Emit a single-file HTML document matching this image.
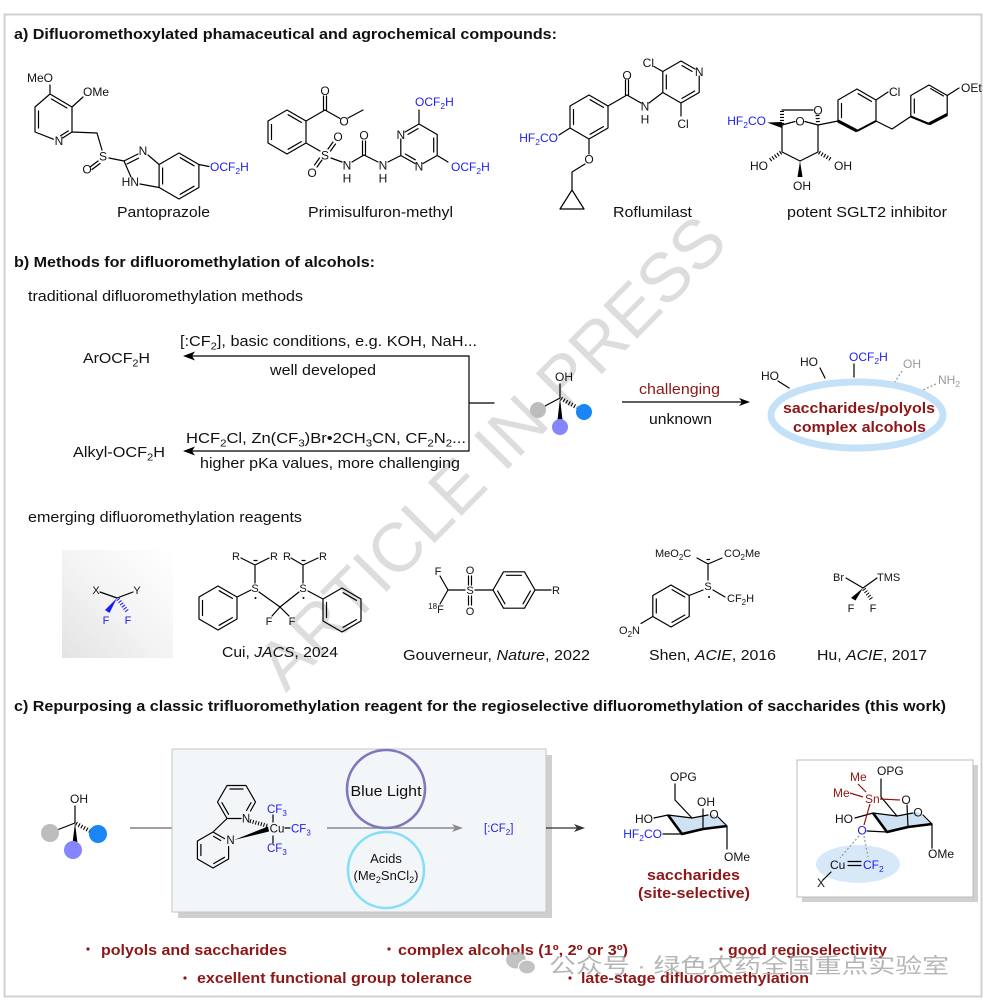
<!DOCTYPE html>
<html><head><meta charset="utf-8"><title>diagram</title>
<style>
html,body{margin:0;padding:0;background:#fff;width:983px;height:1002px;overflow:hidden}
svg{display:block}
text{font-family:"Liberation Sans","Noto Sans CJK SC",Arial,sans-serif;fill:#111}
.b{stroke:#000;stroke-width:1.2;fill:none;stroke-linecap:round;stroke-linejoin:round}
.a{font-size:12px}
.bl{fill:#2020f0}
.dr{fill:#8e1616}
.gy{fill:#9a9a9a}
.wm{fill:#dddddd}
.cn{fill:#a9a9a9}
</style></head><body>
<svg width="983" height="1002" viewBox="0 0 983 1002" xmlns="http://www.w3.org/2000/svg">
<defs>
<linearGradient id="gbox" x1="1" y1="0" x2="0" y2="1">
<stop offset="0" stop-color="#ffffff"/><stop offset="0.5" stop-color="#f4f4f4"/><stop offset="1" stop-color="#e3e3e3"/>
</linearGradient>
</defs>
<rect x="0" y="0" width="983" height="1002" fill="#fff"/>
<!-- watermark -->
<text class="wm" x="0" y="0" transform="translate(508,469) rotate(-45.3)" text-anchor="middle" font-size="69">ARTICLE IN PRESS</text>
<!-- frame -->
<rect x="4.5" y="14.5" width="977" height="982" fill="none" stroke="#d0d0d0" stroke-width="2"/>

<!-- ============ SECTION A ============ -->
<text x="14" y="39" font-size="14.5" font-weight="bold" textLength="543" lengthAdjust="spacingAndGlyphs">a) Difluoromethoxylated phamaceutical and agrochemical compounds:</text>

<g font-size="15">
<text x="117" y="217" textLength="93" lengthAdjust="spacingAndGlyphs">Pantoprazole</text>
<text x="308" y="217" textLength="145" lengthAdjust="spacingAndGlyphs">Primisulfuron-methyl</text>
<text x="613" y="217" textLength="79" lengthAdjust="spacingAndGlyphs">Roflumilast</text>
<text x="787" y="217" textLength="160" lengthAdjust="spacingAndGlyphs">potent SGLT2 inhibitor</text>
</g>

<!-- Pantoprazole -->
<path class="b" d="M50,94 L72,107 L72,132 L62.9,137.9 M53.4,139.2 L35,132 L35,107 L50,94
M38.5,111 L38.5,128 M51.5,99 L66.9,108 M68.3,130.9 L60.6,135.8
M50,94 L50,85 M72,107 L83,97 M72,132 L97,133 L102,150
M98,161 L90,167 M100,163.5 L92,169.5 M109,158 L124,161
M124,161 L138,154 M127,164 L138.5,158.2 M148,155 L159.1,164.5 M159.1,164.5 L159.1,187.5 M159.1,187.5 L140,184 M131,177 L124,161
M159.1,164.5 L179,153 L198.9,164.5 L198.9,187.5 L179,199 L159.1,187.5
M180.2,157.7 L194.1,165.8 M194.1,186.2 L180.2,194.3 M162.6,168 L162.6,184
M198.9,164.5 L209,166.5"/>
<g class="a">
<text x="53" y="82" text-anchor="end">MeO</text>
<text x="83" y="96">OMe</text>
<text x="59" y="145" text-anchor="middle">N</text>
<text x="103" y="160.5" text-anchor="middle">S</text>
<text x="87" y="173.5" text-anchor="middle">O</text>
<text x="143" y="155" text-anchor="middle">N</text>
<text x="139" y="186" text-anchor="end">HN</text>
<text class="bl" x="210" y="171">OCF<tspan font-size="8.5" dy="3">2</tspan><tspan dy="-3">H</tspan></text>
</g>

<!-- Primisulfuron-methyl -->
<path class="b" d="M287,110 L306,121 L306,143 L287,154 L268,143 L268,121 Z
M271.5,124.5 L271.5,139.5 M288.1,114.7 L301.3,122.4 M301.3,141.6 L288.1,149.3
M306,121 L325,110 M323.5,110 L323.5,96 M326.5,110 L326.5,96 M325,110 L340,118.5 M348,118 L363,110
M306,143 L320,151
M328,149 L333,142 M330.5,151 L335.5,144
M322,160 L317,167 M319.5,158 L314.5,165
M331,158 L342,162
M352,162 L364,155 M362.5,155 L362.5,141 M365.5,155 L365.5,141 M364,155 L378,162 M388,162 L400.8,155.5
M400.8,155.5 L400.8,139 M405,132 L419,124 L437.2,134.5 L437.2,155.5 L423,163.5 M415,163.5 L400.8,155.5
M433.7,138 L433.7,152 M408,134.4 L418,128.6 M415.3,159.8 L405.3,154
M419,124 L419,110 M437.2,155.5 L448,162"/>
<g class="a">
<text x="325" y="95" text-anchor="middle">O</text>
<text x="344" y="125.5" text-anchor="middle">O</text>
<text x="325" y="159.5" text-anchor="middle">S</text>
<text x="338" y="141" text-anchor="middle">O</text>
<text x="312" y="177" text-anchor="middle">O</text>
<text x="347" y="169.5" text-anchor="middle">N</text>
<text x="347" y="182.5" text-anchor="middle">H</text>
<text x="364" y="139.5" text-anchor="middle">O</text>
<text x="383" y="169.5" text-anchor="middle">N</text>
<text x="383" y="182.5" text-anchor="middle">H</text>
<text x="400.8" y="139" text-anchor="middle">N</text>
<text x="419" y="170.5" text-anchor="middle">N</text>
<text class="bl" x="415" y="106">OCF<tspan font-size="8.5" dy="3">2</tspan><tspan dy="-3">H</tspan></text>
<text class="bl" x="451" y="171">OCF<tspan font-size="8.5" dy="3">2</tspan><tspan dy="-3">H</tspan></text>
</g>

<!-- Roflumilast -->
<path class="b" d="M589,95 L608,106 L608,128 L589,139 L570,128 L570,106 Z
M573.5,109.5 L573.5,124.5 M590.1,99.7 L603.4,107.4 M603.4,126.6 L590.1,134.3
M608,106 L627,95 M625.5,95 L625.5,80 M628.5,95 L628.5,80 M627,95 L641,103
M649,103 L662.8,92.5
M662.8,92.5 L662.8,71.5 L681,61 L695,69 M699.2,76 L699.2,92.5 L681,103 L662.8,92.5
M682,65.6 L692,71.4 M694.7,91 L682,98.4 M666.3,75 L666.3,89
M662.8,71.5 L654,66.5 M681,103 L681,116
M570,128 L559,135
M589,139 L589,154 M585,164 L572,172 L572,190
M572,190 L560,209 L584,209 Z"/>
<g class="a">
<text x="627" y="79.5" text-anchor="middle">O</text>
<text x="645" y="110.5" text-anchor="middle">N</text>
<text x="645" y="123.5" text-anchor="middle">H</text>
<text x="699.2" y="76" text-anchor="middle">N</text>
<text x="654" y="67" text-anchor="end">Cl</text>
<text x="683" y="128" text-anchor="middle">Cl</text>
<text class="bl" x="558" y="142" text-anchor="end">HF<tspan font-size="8.5" dy="3">2</tspan><tspan dy="-3">CO</tspan></text>
<text x="589" y="163.5" text-anchor="middle">O</text>
</g>

<!-- SGLT2 inhibitor -->
<polygon points="767,122.5 782,122 782,128" fill="#000"/>
<path class="b" d="M782,125 L795,121.5 M805,121.5 L818,125 L818,152 L800,161 L782,152 L782,125
M782,110 L813,110
M818,125 L838,121
M857,89 L876,100 L876,121 L857,131 L838,121 L838,100 Z
M841.5,103.5 L841.5,117.5 M858.1,93.7 L871.4,101.4
M876,100 L888,92
M876,121 L892,129 L910.8,116.5
M929,85 L947.2,95.5 L947.2,114.5 L929,124 L910.8,116.5 L910.8,95.5 Z
M914.3,99 L914.3,113 M930.7,88.6 L943.5,96
M947.2,95.5 L959,88"/>
<g stroke="#000" stroke-width="4" stroke-dasharray="1.1 1.9" fill="none">
<line x1="782" y1="124" x2="782" y2="111"/>
<line x1="817.5" y1="115" x2="818" y2="124"/>
<line x1="781" y1="152.5" x2="770" y2="160"/>
<line x1="819" y1="152.5" x2="832" y2="160"/>
</g>
<polygon points="800,161 797.5,177 802.5,177" fill="#000"/>
<line x1="876" y1="121" x2="857" y2="131" stroke="#000" stroke-width="2"/>
<line x1="838" y1="121" x2="857" y2="131" stroke="#000" stroke-width="3.2"/>
<line x1="947.2" y1="114.5" x2="929" y2="124" stroke="#000" stroke-width="3.2"/>
<line x1="910.8" y1="116.5" x2="929" y2="124" stroke="#000" stroke-width="2.2"/>
<g class="a">
<text class="bl" x="766" y="125" text-anchor="end">HF<tspan font-size="8.5" dy="3">2</tspan><tspan dy="-3">CO</tspan></text>
<text x="800" y="125.5" text-anchor="middle">O</text>
<text x="818" y="114.5" text-anchor="middle">O</text>
<text x="768" y="170" text-anchor="end">HO</text>
<text x="834" y="170">OH</text>
<text x="802" y="190" text-anchor="middle">OH</text>
<text x="889" y="96">Cl</text>
<text x="961" y="92">OEt</text>
</g>

<!-- ============ SECTION B ============ -->
<text x="14" y="267" font-size="14.5" font-weight="bold" textLength="361" lengthAdjust="spacingAndGlyphs">b) Methods for difluoromethylation of alcohols:</text>
<text x="28" y="301" font-size="14.5" textLength="275" lengthAdjust="spacingAndGlyphs">traditional difluoromethylation methods</text>

<path class="b" d="M192,356 L469,356 L469,451 L192,451 M469,403 L494,403"/>
<polygon points="183,356 195,351.5 192,356 195,360.5" fill="#000"/>
<polygon points="183,451 195,446.5 192,451 195,455.5" fill="#000"/>
<g font-size="14.5">
<text x="180" y="346" textLength="297" lengthAdjust="spacingAndGlyphs">[:CF<tspan font-size="10" dy="3.5">2</tspan><tspan dy="-3.5">], basic conditions, e.g. KOH, NaH...</tspan></text>
<text x="270" y="375" textLength="106" lengthAdjust="spacingAndGlyphs">well developed</text>
<text x="83" y="363" textLength="67" lengthAdjust="spacingAndGlyphs">ArOCF<tspan font-size="10" dy="3.5">2</tspan><tspan dy="-3.5">H</tspan></text>
<text x="186" y="443" textLength="280" lengthAdjust="spacingAndGlyphs">HCF<tspan font-size="10" dy="3.5">2</tspan><tspan dy="-3.5">Cl, Zn(CF</tspan><tspan font-size="10" dy="3.5">3</tspan><tspan dy="-3.5">)Br•2CH</tspan><tspan font-size="10" dy="3.5">3</tspan><tspan dy="-3.5">CN, CF</tspan><tspan font-size="10" dy="3.5">2</tspan><tspan dy="-3.5">N</tspan><tspan font-size="10" dy="3.5">2</tspan><tspan dy="-3.5">...</tspan></text>
<text x="73" y="457" textLength="92" lengthAdjust="spacingAndGlyphs">Alkyl-OCF<tspan font-size="10" dy="3.5">2</tspan><tspan dy="-3.5">H</tspan></text>
<text x="200" y="468" textLength="260" lengthAdjust="spacingAndGlyphs">higher pKa values, more challenging</text>
</g>

<!-- alcohol center b -->
<path class="b" d="M560,384 L560,398 L545,406"/>
<line x1="561" y1="398.5" x2="577" y2="407.5" stroke="#000" stroke-width="4" stroke-dasharray="1.1 1.9"/>
<polygon points="560,398 557.5,420 562.5,420" fill="#000"/>
<circle cx="538" cy="410" r="8" fill="#bdbdbd"/>
<circle cx="584" cy="412" r="8" fill="#1a86f5"/>
<circle cx="560" cy="427" r="8" fill="#8585ff"/>
<text class="a" x="555" y="381">OH</text>

<!-- challenging arrow -->
<line x1="622" y1="402" x2="742" y2="402" stroke="#000" stroke-width="1.2"/>
<polygon points="750,402 739,398 742,402 739,406" fill="#000"/>
<text class="dr" x="639" y="394" font-size="14.5" textLength="81" lengthAdjust="spacingAndGlyphs">challenging</text>
<text x="649" y="424" font-size="14.5" textLength="63" lengthAdjust="spacingAndGlyphs">unknown</text>

<!-- ellipse -->
<ellipse cx="857" cy="415" rx="86" ry="33" fill="none" stroke="#c4e1f8" stroke-width="7"/>
<text class="dr" x="783" y="413" font-size="14.5" font-weight="bold" textLength="152" lengthAdjust="spacingAndGlyphs">saccharides/polyols</text>
<text class="dr" x="793" y="432" font-size="14.5" font-weight="bold" textLength="133" lengthAdjust="spacingAndGlyphs">complex alcohols</text>
<path class="b" d="M778,381 L789,388 M820,368 L825,378 M854,364 L854,377"/>
<path d="M902,371 L895,382 M936,384 L923,390" stroke="#9a9a9a" stroke-width="1.3" stroke-dasharray="2 2" fill="none"/>
<g class="a">
<text x="761" y="380">HO</text>
<text x="800" y="366">HO</text>
<text class="bl" x="849" y="361">OCF<tspan font-size="8.5" dy="3">2</tspan><tspan dy="-3">H</tspan></text>
<text class="gy" x="903" y="368">OH</text>
<text class="gy" x="938" y="384">NH<tspan font-size="8.5" dy="3">2</tspan></text>
</g>

<!-- emerging reagents -->
<text x="28" y="522" font-size="14.5" textLength="274" lengthAdjust="spacingAndGlyphs">emerging difluoromethylation reagents</text>
<rect x="62" y="550" width="111" height="108" fill="url(#gbox)"/>
<path class="b" d="M100,592 L117,598 L133,592"/>
<polygon points="117,598 105,610 109.5,613" fill="#1a1aff"/>
<line x1="118" y1="599" x2="127" y2="611" stroke="#1a1aff" stroke-width="4" stroke-dasharray="1 1.8"/>
<g font-size="11">
<text x="96" y="594" text-anchor="middle">X</text>
<text x="137" y="594" text-anchor="middle">Y</text>
<text class="bl" x="106" y="624" text-anchor="middle">F</text>
<text class="bl" x="128" y="624" text-anchor="middle">F</text>
</g>

<!-- Cui -->
<path class="b" d="M218,586 L237,597 L237,619 L218,630 L199,619 L199,597 Z
M202.5,600.5 L202.5,615.5 M219.1,590.7 L232.4,598.4 M232.4,617.6 L219.1,625.3
M237,597 L251,590
M255,583 L255,566 M255,565 L241,558 M255,565 L269,558
M259,592 L280,607 L299,592 M280,607 L272,616 M280,607 L289,616
M303,583 L303,566 M303,565 L291,558 M303,565 L318,558
M308,591 L323,599
M342,588 L361,599 L361,621 L342,632 L323,621 L323,599 Z
M343.1,592.7 L356.4,600.4 M356.4,619.6 L343.1,627.3 M326.5,602.5 L326.5,617.5
M254,560.5 L257,560.5 M302,560.5 L305,560.5"/>
<circle cx="255.5" cy="598" r="1" fill="#000"/>
<circle cx="303.5" cy="598" r="1" fill="#000"/>
<g font-size="11">
<text x="255" y="592" text-anchor="middle">S</text>
<text x="303" y="592" text-anchor="middle">S</text>
<text x="236" y="560" text-anchor="middle">R</text>
<text x="274" y="560" text-anchor="middle">R</text>
<text x="287" y="560" text-anchor="middle">R</text>
<text x="323" y="560" text-anchor="middle">R</text>
<text x="269" y="625" text-anchor="middle">F</text>
<text x="292" y="625" text-anchor="middle">F</text>
</g>
<text x="222" y="657" font-size="14.5" textLength="116" lengthAdjust="spacingAndGlyphs">Cui, <tspan font-style="italic">JACS</tspan>, 2024</text>

<!-- Gouverneur -->
<path class="b" d="M440,576 L448,590 L440,604 M448,590 L465,590
M468.5,585 L468.5,576 M471.5,585 L471.5,576 M468.5,596 L468.5,605 M471.5,596 L471.5,605
M475,590 L493,590
M493,590 L503.5,571.8 L524.5,571.8 L535,590 L524.5,608.2 L503.5,608.2 Z
M506.5,575.3 L521.5,575.3 M530.4,591 L523.1,603.8 M504.9,603.8 L497.6,591
M535,590 L551,590"/>
<g font-size="11">
<text x="438" y="575" text-anchor="middle">F</text>
<text x="436" y="613" text-anchor="middle"><tspan font-size="8" dy="-4">18</tspan><tspan dy="4">F</tspan></text>
<text x="470" y="594" text-anchor="middle">S</text>
<text x="470" y="574" text-anchor="middle">O</text>
<text x="470" y="615" text-anchor="middle">O</text>
<text x="552" y="594">R</text>
</g>
<text x="403" y="660" font-size="14.5" textLength="187" lengthAdjust="spacingAndGlyphs">Gouverneur, <tspan font-style="italic">Nature</tspan>, 2022</text>

<!-- Shen -->
<path class="b" d="M697,558 L708,564 L722,558 M708,565 L708,580
M713,590 L725,597 M703,590 L689.2,595.5
M671,585 L689.2,595.5 L689.2,616.5 L671,627 L652.8,616.5 L652.8,595.5 Z
M672,589.6 L684.8,597 M684.8,615 L672,622.4 M656.3,599 L656.3,613
M652.8,616.5 L641,623.5 M707,559.5 L709.5,559.5"/>
<circle cx="709" cy="597" r="1" fill="#000"/>
<g font-size="11">
<text x="655" y="557">MeO<tspan font-size="8" dy="3">2</tspan><tspan dy="-3">C</tspan></text>
<text x="724" y="557">CO<tspan font-size="8" dy="3">2</tspan><tspan dy="-3">Me</tspan></text>
<text x="708" y="590" text-anchor="middle">S</text>
<text x="727" y="602">CF<tspan font-size="8" dy="3">2</tspan><tspan dy="-3">H</tspan></text>
<text x="640" y="634" text-anchor="end">O<tspan font-size="8" dy="3">2</tspan><tspan dy="-3">N</tspan></text>
</g>
<text x="649" y="660" font-size="14.5" textLength="127" lengthAdjust="spacingAndGlyphs">Shen, <tspan font-style="italic">ACIE</tspan>, 2016</text>

<!-- Hu -->
<path class="b" d="M846,578 L863,588 L877,578"/>
<polygon points="863,588 851,598 855.5,600.5" fill="#000"/>
<line x1="864" y1="589" x2="872" y2="600" stroke="#000" stroke-width="4" stroke-dasharray="1 1.8"/>
<g font-size="11">
<text x="833" y="581">Br</text>
<text x="877" y="581">TMS</text>
<text x="851" y="612" text-anchor="middle">F</text>
<text x="873" y="612" text-anchor="middle">F</text>
</g>
<text x="817" y="660" font-size="14.5" textLength="110" lengthAdjust="spacingAndGlyphs">Hu, <tspan font-style="italic">ACIE</tspan>, 2017</text>

<!-- ============ SECTION C ============ -->
<text x="14" y="711" font-size="14.5" font-weight="bold" textLength="932" lengthAdjust="spacingAndGlyphs">c) Repurposing a classic trifluoromethylation reagent for the regioselective difluoromethylation of saccharides (this work)</text>

<!-- left alcohol -->
<path class="b" d="M75,806 L75,823 L57,830"/>
<line x1="76" y1="823.5" x2="90" y2="831" stroke="#000" stroke-width="4" stroke-dasharray="1.1 1.9"/>
<polygon points="75,823 72.5,843 77.5,843" fill="#000"/>
<circle cx="50" cy="833" r="9" fill="#bdbdbd"/>
<circle cx="98" cy="834" r="9" fill="#1a86f5"/>
<circle cx="73" cy="850" r="9" fill="#8585ff"/>
<text class="a" x="70" y="803">OH</text>
<line x1="130" y1="828" x2="172" y2="828" stroke="#666" stroke-width="1.3"/>

<!-- shaded box -->
<rect x="178" y="755" width="374" height="163" fill="#cfcfcf"/>
<rect x="172" y="749" width="374" height="163" fill="#f3f6f8" stroke="#c6c6c6" stroke-width="1"/>

<!-- bipyridine Cu -->
<path class="b" d="M227,818.5 L217.5,802 L227,785.5 L246,785.5 L255.5,802 L250.5,811 M241,818.5 L227,818.5
M230,789 L243,789 M228.6,814.3 L221.9,802.7 M251,802.7 L246.5,810.5
M227,818.5 L213,832
M224.5,838.6 L213,832 L197.4,841 L197.4,859 L213,868 L228.6,859 L228.6,846.5
M200.9,844.5 L200.9,855.5 M224.5,857.3 L213.6,863.6 M213.6,836.4 L220.7,840.5
M273,815 L273,822 M273,836 L273,843 M285,828 L290,828"/>
<line x1="250" y1="821" x2="268" y2="826" stroke="#000" stroke-width="4" stroke-dasharray="1 1.8"/>
<polygon points="234,840 268,826.5 269,831.5" fill="#000"/>
<g font-size="11.5">
<text x="246" y="822.5" text-anchor="middle">N</text>
<text x="230.5" y="844" text-anchor="middle">N</text>
<text x="277" y="832.5" text-anchor="middle">Cu</text>
<text class="bl" x="267" y="813">CF<tspan font-size="8" dy="3">3</tspan></text>
<text class="bl" x="291" y="832.5">CF<tspan font-size="8" dy="3">3</tspan></text>
<text class="bl" x="267" y="852">CF<tspan font-size="8" dy="3">3</tspan></text>
</g>

<!-- gray arrow + circles -->
<line x1="327" y1="828" x2="455" y2="828" stroke="#8a8a8a" stroke-width="1.5"/>
<polygon points="463,828 452,824 455,828 452,832" fill="#8a8a8a"/>
<circle cx="386" cy="789" r="39" fill="none" stroke="#7d79bb" stroke-width="2.6"/>
<circle cx="386" cy="870" r="38" fill="none" stroke="#86def7" stroke-width="2.6"/>
<text x="386" y="796" text-anchor="middle" font-size="15" textLength="71" lengthAdjust="spacingAndGlyphs">Blue Light</text>
<text x="386" y="863" text-anchor="middle" font-size="13">Acids</text>
<text x="386" y="880" text-anchor="middle" font-size="13">(Me<tspan font-size="9" dy="3">2</tspan><tspan dy="-3">SnCl</tspan><tspan font-size="9" dy="3">2</tspan><tspan dy="-3">)</tspan></text>
<text class="bl" x="484" y="832" font-size="11.5">[:CF<tspan font-size="8" dy="3">2</tspan><tspan dy="-3">]</tspan></text>

<!-- right arrow -->
<line x1="546" y1="828" x2="577" y2="828" stroke="#333" stroke-width="1.3"/>
<polygon points="585,828 574,824 577,828 574,832" fill="#333"/>

<!-- saccharide -->
<polygon points="668,815 692,818 713,814 727,826 703,829 682,834" fill="#cfe2f3"/>
<path class="b" d="M675,784 L675,800 L692,818 M668,815 L692,818 L708,815 M718,817 L727,826
M654,818 L668,815 M663,834 L682,834 M703,809 L703,829 M727,826 L727,849"/>
<path d="M727,826 L703,829 L682,834 L668,815" stroke="#000" stroke-width="2.6" fill="none" stroke-linejoin="round"/>
<g class="a">
<text x="670" y="781">OPG</text>
<text x="653" y="823" text-anchor="end">HO</text>
<text class="bl" x="662" y="838" text-anchor="end">HF<tspan font-size="8.5" dy="3">2</tspan><tspan dy="-3">CO</tspan></text>
<text x="697" y="806">OH</text>
<text x="714" y="818.5" text-anchor="middle">O</text>
<text x="724" y="861">OMe</text>
</g>
<text class="dr" x="647" y="880" font-size="15" font-weight="bold" textLength="93" lengthAdjust="spacingAndGlyphs">saccharides</text>
<text class="dr" x="638" y="898" font-size="15" font-weight="bold" textLength="112" lengthAdjust="spacingAndGlyphs">(site-selective)</text>

<!-- right box -->
<rect x="802" y="765" width="176" height="137" fill="#d0d0d0"/>
<rect x="797" y="760" width="176" height="137" fill="#fff" stroke="#bcbcbc" stroke-width="1"/>
<ellipse cx="858" cy="864" rx="42" ry="19" fill="#d7e8f8"/>
<polygon points="873,813 897,816 918,812 932,824 908,827 887,832" fill="#cfe2f3"/>
<path class="b" d="M881,779 L881,797 L897,816 M873,813 L897,816 L913,813 M923,815 L932,824
M855,818 L873,813 M867,831 L887,832 M907,805 L908,827 M932,824 L932,848
M831,872 L823,880 M848,861.5 L861,861.5 M848,865.5 L861,865.5"/>
<path d="M932,824 L908,827 L887,832 L873,813" stroke="#000" stroke-width="2.6" fill="none" stroke-linejoin="round"/>
<path d="M858,784 L866,792 M850,793 L863,797 M880,799 L900,800 M870,804 L864,825" stroke="#8e1616" stroke-width="1.2" fill="none"/>
<path d="M859,836 L840,858 M864,836 L868,857" stroke="#999" stroke-width="1.2" stroke-dasharray="2 2" fill="none"/>
<g class="a">
<text x="877" y="775">OPG</text>
<text class="dr" x="850" y="781">Me</text>
<text class="dr" x="833" y="797">Me</text>
<text class="dr" x="865" y="803">Sn</text>
<text x="906" y="804" text-anchor="middle">O</text>
<text x="918" y="816.5" text-anchor="middle">O</text>
<text x="853" y="823" text-anchor="end">HO</text>
<text class="bl" x="862" y="834.5" text-anchor="middle">O</text>
<text x="928" y="858">OMe</text>
<text x="830" y="869">Cu</text>
<text class="bl" x="863" y="869">CF<tspan font-size="8.5" dy="3">2</tspan></text>
<text x="817" y="887">X</text>
</g>

<!-- bullets -->
<g fill="#8e1616">
<circle cx="88" cy="949" r="1.6"/>
<circle cx="389" cy="949" r="1.6"/>
<circle cx="721" cy="949" r="1.6"/>
<circle cx="185" cy="978" r="1.6"/>
<circle cx="570" cy="978" r="1.6"/>
</g>
<g font-size="14.5" font-weight="bold">
<text class="dr" x="101" y="955" textLength="186" lengthAdjust="spacingAndGlyphs">polyols and saccharides</text>
<text class="dr" x="398" y="955" textLength="230" lengthAdjust="spacingAndGlyphs">complex alcohols (1º, 2º or 3º)</text>
<text class="dr" x="728" y="955" textLength="159" lengthAdjust="spacingAndGlyphs">good regioselectivity</text>
<text class="dr" x="197" y="983" textLength="275" lengthAdjust="spacingAndGlyphs">excellent functional group tolerance</text>
<text class="dr" x="581" y="983" textLength="228" lengthAdjust="spacingAndGlyphs">late-stage difluoromethylation</text>
</g>

<!-- wechat watermark -->
<g opacity="0.85">
<ellipse cx="516" cy="960" rx="10" ry="8.5" fill="#b8b8b8"/>
<ellipse cx="527" cy="967" rx="8.5" ry="7" fill="#b8b8b8" stroke="#fff" stroke-width="1.2"/>
<text class="cn" x="549" y="973" font-size="21" textLength="400" lengthAdjust="spacingAndGlyphs">公众号 · 绿色农药全国重点实验室</text>
</g>
</svg>
</body></html>
